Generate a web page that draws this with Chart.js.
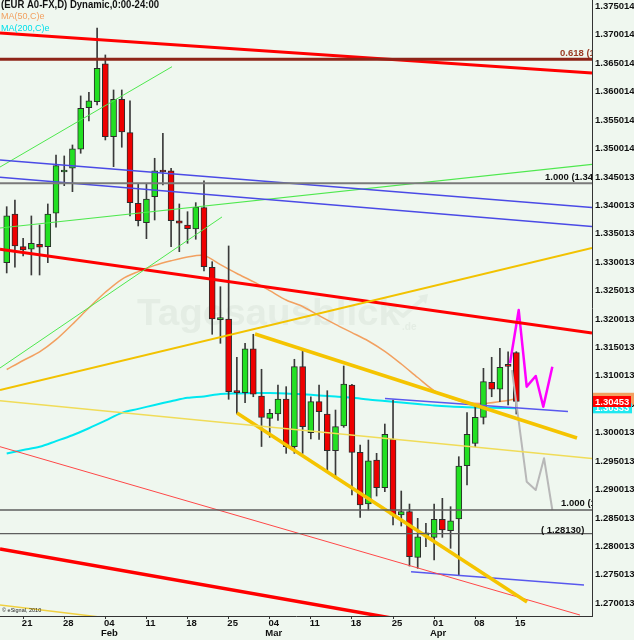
<!DOCTYPE html>
<html><head><meta charset="utf-8">
<script src="https://cdn.jsdelivr.net/npm/chart.js@4.4.1/dist/chart.umd.min.js"></script>
<style>html,body{margin:0;padding:0;background:#eff7ef;overflow:hidden}canvas{display:block}</style>
</head><body>
<canvas id="c" width="634" height="640"></canvas>
<script>
// ---- Daily candles (index 0 = 19 Jan ... index 62 = 15 Apr) ----
const opens = [1.32896,1.33753,1.33177,1.33132,1.33220,1.33177,1.33765,1.34492,1.34557,1.34891,
1.35624,1.35729,1.36393,1.35113,1.35771,1.35184,1.33941,1.33600,1.34057,1.34501,
1.34510,1.33630,1.33559,1.33489,1.33864,1.32815,1.31893,1.31905,1.30620,1.30608,
1.31382,1.30550,1.30157,1.30233,1.30497,1.29658,1.31066,1.29904,1.30450,1.30233,
1.29587,1.30022,1.30743,1.29559,1.28649,1.29424,1.28936,1.29788,1.28456,1.28514,
1.27711,1.28098,1.28063,1.28380,1.28179,1.28385,1.29323,1.29717,1.30175,1.30791,
1.30668,1.31083,1.31312];
const highs = [1.33881,1.33999,1.33325,1.33718,1.33559,1.33929,1.34791,1.34774,1.34967,1.35830,
1.35895,1.37026,1.36551,1.35935,1.35935,1.35742,1.34281,1.34281,1.34733,1.35173,
1.34557,1.33929,1.33793,1.33952,1.34334,1.32913,1.32473,1.33190,1.31231,1.31477,
1.31636,1.31020,1.30316,1.30743,1.30714,1.31196,1.31347,1.30537,1.30743,1.30643,
1.30303,1.31078,1.30757,1.29687,1.29775,1.29541,1.30057,1.30479,1.28878,1.28649,
1.28397,1.28309,1.28649,1.28749,1.28602,1.29482,1.30256,1.30391,1.31037,1.31231,
1.31389,1.31329,1.31330];
const lows = [1.32715,1.32815,1.33014,1.32679,1.32679,1.32896,1.33519,1.34251,1.34145,1.34821,
1.35390,1.35671,1.35055,1.34585,1.34927,1.33718,1.33542,1.33318,1.33647,1.34263,
1.33177,1.33089,1.33237,1.33308,1.32750,1.31636,1.31477,1.30492,1.30245,1.30432,
1.30537,1.29661,1.29823,1.30119,1.29541,1.29541,1.29541,1.29793,1.29788,1.29235,
1.29101,1.29999,1.28808,1.28415,1.28544,1.28790,1.28866,1.28280,1.28262,1.27558,
1.27518,1.27898,1.27664,1.28063,1.27870,1.27400,1.28984,1.29658,1.30057,1.30537,
1.30450,1.30391,1.30233];
const closes = [1.33718,1.33190,1.33119,1.33237,1.33167,1.33753,1.34603,1.34527,1.34897,1.35613,
1.35742,1.36317,1.35113,1.35771,1.35196,1.33952,1.33635,1.34017,1.34510,1.34492,
1.33635,1.33589,1.33494,1.33871,1.32825,1.31905,1.31917,1.30626,1.30610,1.31382,
1.30580,1.30171,1.30245,1.30497,1.29658,1.31066,1.30010,1.30450,1.30274,1.29587,
1.30010,1.30761,1.29559,1.28632,1.29411,1.28936,1.29876,1.28456,1.28514,1.27722,
1.28074,1.28144,1.28380,1.28192,1.28355,1.29318,1.29876,1.30175,1.30802,1.30668,
1.31055,1.31072,1.30453];

// ---- Moving averages (read at every second bar) ----
const maIdx = [0,2,4,6,8,10,12,14,16,18,20,22,24,26,28,30,32,34,36,38,40,42,44,46,48,50,52,54,56,58,60,62];
const ma50 = [1.31016,1.31175,1.31326,1.31541,1.31813,1.32102,1.32375,1.32604,1.32739,1.32848,1.32929,1.32996,1.33023,1.32862,1.32706,1.32561,1.32403,1.32239,1.32125,1.31963,1.31810,1.31666,1.31518,1.31335,1.31113,1.30875,1.30645,1.30515,1.30435,1.30418,1.30453,1.30501];
const ma200 = [1.29538,1.29598,1.29656,1.29756,1.29860,1.29983,1.30115,1.30252,1.30323,1.30393,1.30457,1.30518,1.30543,1.30585,1.30596,1.30603,1.30603,1.30596,1.30580,1.30560,1.30539,1.30522,1.30488,1.30462,1.30435,1.30409,1.30381,1.30363,1.30352,1.30345,1.30340,1.30333];

// ---- Drawn lines: [bar index, price] ----
const lineRedTop   = [[-0.815,1.36937],[71.205,1.36233]];
const lineFib618   = [[-0.815,1.36475],[71.205,1.36475]];
const lineFib100A  = [[-0.815,1.34293],[71.205,1.34293]];
const lineFib100B  = [[-0.815,1.28544],[71.205,1.28544]];
const lineFibLow   = [[-0.815,1.28130],[71.205,1.28130]];
const lineBlueA    = [[-0.815,1.34703],[71.205,1.33867]];
const lineBlueB    = [[-0.815,1.34398],[71.205,1.33532]];
const lineGreen1   = [[-0.815,1.34579],[20.11,1.36344]];
const lineGreen2   = [[-0.815,1.31043],[26.19,1.33700]];
const lineGreen3   = [[-0.815,1.33506],[71.205,1.34627]];
const lineGold1    = [[-0.815,1.30656],[71.205,1.33154]];
const lineGold2    = [[30.21,1.31641],[69.38,1.29811]];
const lineGold3    = [[28.02,1.30251],[63.30,1.26925]];
const lineYellow4  = [[-0.815,1.30467],[71.205,1.29450]];
const lineYellow5  = [[-0.815,1.26872],[21.45,1.26485]];
const lineRed2     = [[-0.815,1.33131],[71.205,1.31658]];
const lineRed3     = [[-0.815,1.27858],[71.205,1.26021]];
const lineRed4     = [[-0.815,1.29658],[69.74,1.26696]];
const lineBlueLow  = [[49.19,1.27458],[70.23,1.27224]];
const lineBlueMid  = [[46.02,1.30506],[68.28,1.30277]];
const projMagenta  = [[61.23,1.31125],[62.29,1.32063],[63.26,1.30714],[64.36,1.30902],[65.28,1.30362],[66.38,1.31065]];
const projGray     = [[61.47,1.31007],[63.26,1.29042],[64.36,1.28896],[65.37,1.29454],[66.38,1.28544]];

// ---- Axes ----
const xMin = -0.815, xMax = 71.205;
const yMin = 1.266788, yMax = 1.375179;
const xTickIdx = [2,7,12,17,22,27,32,37,42,47,52,57,62];
const xTickLabels = ['21','28',['04','Feb'],'11','18','25',['04','Mar'],'11','18','25',['01','Apr'],'08','15'];
const yTickValues = [1.270013,1.275013,1.280013,1.285013,1.290013,1.295013,1.300013,1.305013,1.310013,1.315013,1.320013,1.325013,1.330013,1.335013,1.340013,1.345013,1.350014,1.355014,1.360014,1.365014,1.370014,1.375014];
const yTickLabels = ['1.270013','1.275013','1.280013','1.285013','1.290013','1.295013','1.300013','1.305013','1.310013','1.315013','1.320013','1.325013','1.330013','1.335013','1.340013','1.345013','1.350014','1.355014','1.360014','1.365014','1.370014','1.375014'];

const FONT = "'Liberation Sans', Arial, sans-serif";
Chart.defaults.font.family = FONT;

const idx = opens.map((_, i) => i);
const pts = arr => arr.map(p => ({x: p[0], y: p[1]}));
const lineDs = (d, color, w, order) => ({type: 'line', data: pts(d), borderColor: color, borderWidth: w,
  pointRadius: 0, pointHoverRadius: 0, fill: false, tension: 0, borderJoinStyle: 'round',
  order: order === undefined ? 0 : order});

const datasets = [
  lineDs(lineFib618, '#8e2418', 3),
  lineDs(lineRedTop, '#ff0000', 3),
  lineDs(lineFib100A, '#7a7a7a', 2),
  lineDs(lineFib100B, '#5e5e5e', 1.3),
  lineDs(lineFibLow, '#5e5e5e', 1.3),
  lineDs(lineBlueA, '#4a4ae6', 1.5),
  lineDs(lineBlueB, '#4a4ae6', 1.5),
  lineDs(lineGreen1, '#4ee84e', 1),
  lineDs(lineGreen2, '#4ee84e', 1),
  lineDs(lineGreen3, '#4ee84e', 1.2),
  lineDs(lineGold1, '#f2c200', 2),
  lineDs(lineYellow4, '#f0dc58', 1.5),
  lineDs(lineYellow5, '#f0d040', 1.5),
  lineDs(lineGold2, '#f5c400', 3.5),
  lineDs(lineGold3, '#f5c400', 3.5),
  lineDs(lineRed2, '#ff0000', 3),
  lineDs(lineRed3, '#ff0000', 3.5),
  lineDs(lineRed4, '#ff4848', 1),
  lineDs(lineBlueLow, '#5858ee', 1.5),
  lineDs(lineBlueMid, '#5858ee', 1.5),
  lineDs(projGray, '#b8b8b8', 2),
  lineDs(projMagenta, '#ff00ff', 2.5),
  {type: 'bar', data: idx.map(i => ({x: i, y: [opens[i], closes[i]]})),
   backgroundColor: idx.map(i => closes[i] >= opens[i] ? '#22e022' : '#ee0000'),
   borderColor: '#2c2c2c', borderWidth: 1, borderSkipped: false, barThickness: 6,
   grouped: false, minBarLength: 2, order: 1},
  {type: 'bar', data: idx.map(i => ({x: i, y: [lows[i], highs[i]]})),
   backgroundColor: '#3a3a3a', borderWidth: 0, barThickness: 1, grouped: false, order: 2},
  {type: 'line', data: maIdx.map((x, k) => ({x, y: ma50[k]})), borderColor: '#f2a060', borderWidth: 1.5,
   pointRadius: 0, fill: false, tension: 0.3, order: 3},
  {type: 'line', data: maIdx.map((x, k) => ({x, y: ma200[k]})), borderColor: '#00e8f0', borderWidth: 2,
   pointRadius: 0, fill: false, tension: 0.3, order: 3}
];

function fitText(ctx, txt, x, y, w) {
  const m = ctx.measureText(txt).width;
  ctx.save(); ctx.translate(x, y); ctx.scale(w / m, 1); ctx.fillText(txt, 0, 0); ctx.restore();
}

const decor = {
  id: 'decor',
  beforeDraw(chart) {
    const c = chart.ctx; c.save(); c.fillStyle = '#eff7ef'; c.fillRect(0, 0, chart.width, chart.height); c.restore();
  },
  beforeDatasetsDraw(chart) {
    const c = chart.ctx; c.save();
    c.fillStyle = '#e4ede4'; c.strokeStyle = '#e4ede4';
    c.font = 'bold 37px ' + FONT; c.textBaseline = 'alphabetic';
    fitText(c, 'Tagesausblick', 137, 325, 263);
    c.font = 'bold 10px ' + FONT; c.fillText('.de', 402, 330);
    c.lineWidth = 4; c.lineJoin = 'round'; c.beginPath();
    c.moveTo(388, 305); c.lineTo(403, 316); c.lineTo(424, 298); c.stroke();
    c.beginPath(); c.moveTo(418, 296); c.lineTo(428, 294); c.lineTo(426, 304); c.closePath(); c.fill();
    c.restore();
  },
  afterDatasetsDraw(chart) {
    const c = chart.ctx, a = chart.chartArea, y = chart.scales.y;
    c.save(); c.beginPath(); c.rect(a.left, a.top, a.right - a.left, a.bottom - a.top); c.clip();
    c.font = 'bold 9.5px ' + FONT; c.textBaseline = 'alphabetic';
    c.fillStyle = '#9b3a24'; c.fillText('0.618 (1.36475)', 560, y.getPixelForValue(lineFib618[0][1]) - 3);
    c.fillStyle = '#111'; c.fillText('1.000 (1.34293)', 545, y.getPixelForValue(lineFib100A[0][1]) - 3);
    c.fillText('1.000 (1.28544)', 561, y.getPixelForValue(lineFib100B[0][1]) - 4);
    c.fillText('( 1.28130)', 541, y.getPixelForValue(lineFibLow[0][1]) - 1);
    c.font = '5.5px ' + FONT; c.fillStyle = '#222';
    c.fillText('\u00a9 eSignal, 2010', 2, 612);
    c.restore();
  },
  afterDraw(chart) {
    const c = chart.ctx, y = chart.scales.y;
    c.save();
    c.textBaseline = 'middle';
    c.font = 'bold 10px ' + FONT; c.fillStyle = '#111';
    fitText(c, '(EUR A0-FX,D) Dynamic,0:00-24:00', 1, 5.5, 158);
    c.font = '9px ' + FONT; c.fillStyle = '#f2a060';
    c.fillText('MA(50,C)e', 1, 17);
    c.fillStyle = '#00e0ea';
    c.fillText('MA(200,C)e', 1, 29);
    // last-value boxes on the price axis
    const yo = y.getPixelForValue(ma50[ma50.length - 1]);
    const yc = y.getPixelForValue(ma200[ma200.length - 1]);
    const yr = y.getPixelForValue(closes[closes.length - 1]);
    c.fillStyle = '#f2a060'; c.fillRect(593, yo - 6, 41, 12);
    c.fillStyle = '#1ee8f0'; c.fillRect(593, yc - 5, 39, 10);
    c.font = 'bold 9.5px ' + FONT; c.fillStyle = '#fff';
    c.fillText(ma200[ma200.length - 1].toFixed(5), 595, yc + 0.5);
    c.fillStyle = '#ff0000'; c.fillRect(593, yr - 5.5, 38, 11);
    c.fillStyle = '#fff';
    c.fillText(closes[closes.length - 1].toFixed(5), 595, yr + 0.5);
    c.restore();
  }
};

new Chart(document.getElementById('c'), {
  type: 'bar',
  data: {datasets},
  options: {
    responsive: false, animation: false, devicePixelRatio: 1, events: [],
    layout: {padding: 0, autoPadding: false},
    plugins: {legend: {display: false}, tooltip: {enabled: false}, title: {display: false}},
    scales: {
      x: {
        type: 'linear', min: xMin, max: xMax, offset: false,
        grid: {display: true, drawOnChartArea: false, drawTicks: true, tickLength: 3, offset: false, color: '#333'},
        border: {display: true, color: '#333', width: 1},
        ticks: {autoSkip: false, maxRotation: 0, minRotation: 0, padding: -1, labelOffset: 4, color: '#111',
          font: {family: FONT, size: 9.5, weight: 'bold', lineHeight: 1.1},
          callback: (v, i) => xTickLabels[i]},
        afterBuildTicks: s => { s.ticks = xTickIdx.map(v => ({value: v})); },
        afterFit: s => { s.height = 24; s.paddingLeft = 0; s.paddingRight = 0; s.paddingTop = 0; s.paddingBottom = 0; }
      },
      y: {
        type: 'linear', position: 'right', min: yMin, max: yMax,
        grid: {display: false, drawTicks: false},
        border: {display: true, color: '#333', width: 1},
        ticks: {autoSkip: false, padding: 3, labelOffset: 5.5, color: '#111',
          font: {family: FONT, size: 9.5, weight: 'bold'},
          callback: (v, i) => yTickLabels[i]},
        afterBuildTicks: s => { s.ticks = yTickValues.map(v => ({value: v})); },
        afterFit: s => { s.width = 42; s.paddingLeft = 0; s.paddingRight = 0; s.paddingTop = 0; s.paddingBottom = 0; }
      }
    }
  },
  plugins: [decor]
});
</script>
</body></html>
